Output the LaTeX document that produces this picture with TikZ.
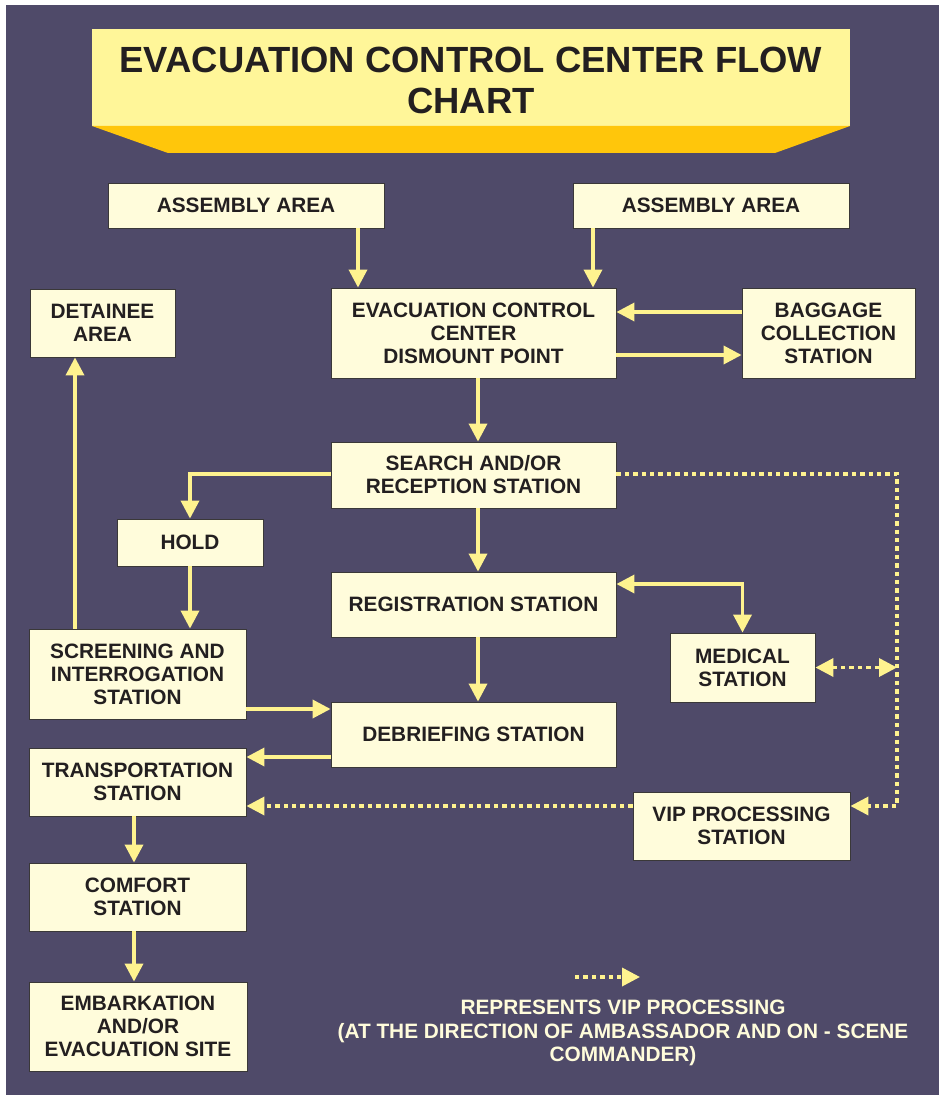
\documentclass[tikz,border=0pt]{standalone}
\usepackage{fontspec}
\setmainfont{Liberation Sans}
\usetikzlibrary{arrows.meta}

\definecolor{bgpurple}{HTML}{4F4A69}
\definecolor{boxfill}{HTML}{FFFCDB}
\definecolor{boxline}{HTML}{3A3838}
\definecolor{inkdark}{HTML}{231F20}
\definecolor{flowline}{HTML}{FFF38F}
\definecolor{bannerlight}{HTML}{FFF699}
\definecolor{bannergold}{HTML}{FFC60B}

\newcommand\pxu{0.025cm}% one pixel of the layout

\begin{document}
\begin{tikzpicture}[
x=0.025cm, y=-0.025cm,
>={Triangle[length=0.45cm, width=0.45cm]},
   box/.style 2 args = {rectangle, draw=boxline, fill=boxfill, line width=0.6pt,
                text=inkdark, align=center, inner sep=0pt,
                font=\fontsize{14.8}{16.4}\selectfont\bfseries,
                minimum width=#1*\pxu, minimum height=#2*\pxu},
banner/.style = {text=inkdark, align=center,
                font=\fontsize{25.9}{28.5}\selectfont\bfseries},
legend/.style = {text=boxfill, align=center,
                font=\fontsize{14.8}{16.7}\selectfont\bfseries},
  flow/.style = {draw=flowline, line width=2.5pt, ->},% plain connector
vipflow/.style = {flow, dash pattern=on 0.11cm off 0.1cm},% VIP route
                    ]
\useasboundingbox (0,0) rectangle (939,1095);
\fill[white] (0,0) rectangle (939,1095);
\fill[bgpurple] (6,5) rectangle (939,1095);

% title
\fill[bannerlight] (92,29) rectangle (850,126);
\fill[bannergold] (92,126) -- (850,126) -- (775,153) -- (168,153) -- cycle;
\node[banner] (title) at (471,80.5) {EVACUATION CONTROL CENTER FLOW\\CHART};

% stations
\node[box={276}{45}] (asmL)     at (246,205.5)   {ASSEMBLY AREA};
\node[box={276}{45}] (asmR)     at (711,205.5)   {ASSEMBLY AREA};
\node[box={285}{90}] (ecc)      at (473.5,333)   {EVACUATION CONTROL\\CENTER\\DISMOUNT POINT};
\node[box={145}{68}] (detain)   at (102.5,323)   {DETAINEE\\AREA};
\node[box={173}{90}] (baggage)  at (828.5,333)   {BAGGAGE\\COLLECTION\\STATION};
\node[box={285}{66}] (search)   at (473.5,475)   {SEARCH AND/OR\\RECEPTION STATION};
\node[box={146}{47}] (hold)     at (190,542.5)   {HOLD};
\node[box={285}{65}] (regist)   at (473.5,604.5) {REGISTRATION STATION};
\node[box={145}{69}] (medical)  at (742.5,667.5) {MEDICAL\\STATION};
\node[box={217}{90}] (screen)   at (137.5,674)   {SCREENING AND\\INTERROGATION\\STATION};
\node[box={285}{65}] (debrief)  at (473.5,734.5) {DEBRIEFING STATION};
\node[box={217}{68}] (transport) at (137.5,782)  {TRANSPORTATION\\STATION};
\node[box={217}{68}] (vip)      at (741.5,826)   {VIP PROCESSING\\STATION};
\node[box={217}{68}] (comfort)  at (137.5,897)   {COMFORT\\STATION};
\node[box={218}{89}] (embark)   at (138,1026.5)  {EMBARKATION\\AND/OR\\EVACUATION SITE};

% lanes of the connectors
\coordinate (colA) at (358,0);  \coordinate (colB) at (593,0);
\coordinate (colC) at (478,0);  \coordinate (colE) at (75,0);
\coordinate (colF) at (134,0);  \coordinate (trunk) at (897,0);
\coordinate (rowA) at (0,312);  \coordinate (rowB) at (0,355);
\coordinate (rowC) at (0,474);  \coordinate (rowD) at (0,584);
\coordinate (rowE) at (0,709);  \coordinate (rowF) at (0,757);
\coordinate (rowG) at (0,806);

\draw[flow] (asmL.south -| colA) -- (ecc.north -| colA);
\draw[flow] (asmR.south -| colB) -- (ecc.north -| colB);
\draw[flow] (baggage.west |- rowA) -- (ecc.east |- rowA);
\draw[flow] (ecc.east |- rowB) -- (baggage.west |- rowB);
\draw[flow] (ecc.south -| colC) -- (search.north -| colC);
\draw[flow] (search.west |- rowC) -| (hold.north);
\draw[flow] (search.south -| colC) -- (regist.north -| colC);
\draw[flow, <->] (regist.east |- rowD) -| (medical.north);
\draw[flow] (regist.south -| colC) -- (debrief.north -| colC);
\draw[flow] (hold.south) -- (screen.north -| hold.south);
\draw[flow] (screen.north -| colE) -- (detain.south -| colE);
\draw[flow] (screen.east |- rowE) -- (debrief.west |- rowE);
\draw[flow] (debrief.west |- rowF) -- (transport.east |- rowF);
\draw[flow] (transport.south -| colF) -- (comfort.north -| colF);
\draw[flow] (comfort.south -| colF) -- (embark.north -| colF);

% VIP route
\draw[vipflow] (search.east |- rowC) -| (trunk |- rowG) -- (vip.east |- rowG);
\draw[vipflow, <->] (medical.east) -- (trunk |- medical.east);
\draw[vipflow] (vip.west |- rowG) -- (transport.east |- rowG);

% legend
\coordinate (legA) at (575,977);
\coordinate (legB) at (640,977);
\draw[vipflow] (legA) -- (legB);
\node[legend] (legtext) at (623,1033) {REPRESENTS VIP PROCESSING\\(AT THE DIRECTION OF AMBASSADOR AND ON - SCENE\\COMMANDER)};
\end{tikzpicture}
\end{document}
